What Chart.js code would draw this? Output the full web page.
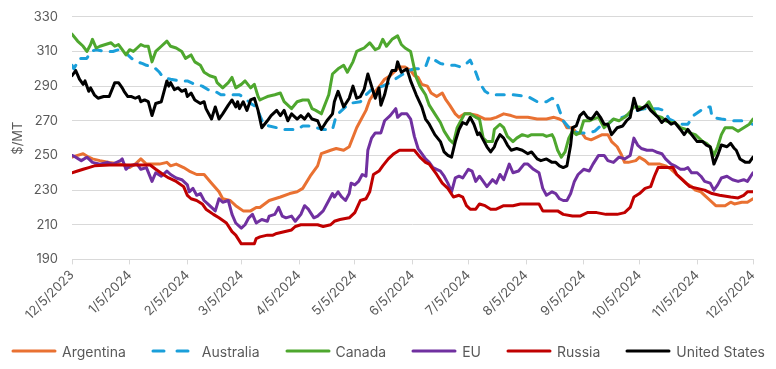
<!DOCTYPE html>
<html>
<head>
<meta charset="utf-8">
<script src="https://cdn.jsdelivr.net/npm/chart.js@4.4.1/dist/chart.umd.min.js"></script>
<style>
  html, body { margin: 0; padding: 0; background: #fff; }
  #wrap { position: relative; width: 776px; height: 369px; overflow: hidden; }
  /* canvas starts a few px above the page so the plot top lands where the original has it */
  #chart { position: absolute; left: 0; top: -5px; }
  #legend {
    position: absolute; left: 0; top: 341px; width: 776px; height: 20px;
    display: flex; justify-content: center; align-items: center; gap: 25px;
    font: 14px Inter, "Noto Sans", sans-serif; color: #595959;
  }
  .item { display: flex; align-items: center; white-space: nowrap; }
  .item svg { margin-right: 5px; }
</style>
</head>
<body>
<div id="wrap">
  <canvas id="chart" width="776" height="374"></canvas>
  <div id="legend"></div>
</div>
<script>
// x values are days counted from 12/5/2023
const tickDays = [0, 31, 62, 91, 122, 152, 183, 213, 244, 275, 305, 336, 366];
const tickLabels = ['12/5/2023', '1/5/2024', '2/5/2024', '3/5/2024', '4/5/2024', '5/5/2024',
  '6/5/2024', '7/5/2024', '8/5/2024', '9/5/2024', '10/5/2024', '11/5/2024', '12/5/2024'];

// [day, $/MT]
const argentina = [[0,249],[3,250],[6,251],[9,249],[11,248],[15,247],[20,246],[26,245],[30,244],[31,243],
  [34,245],[37,248],[40,245],[44,245],[47,245],[51,246],[53,244],[56,245],[60,243],[63,241],
  [67,239],[71,239],[75,234],[79,229],[81,225],[85,224],[88,221],[92,218],[96,218],[99,220],
  [101,220],[106,224],[112,226],[117,228],[121,229],[124,231],[128,238],[132,244],[134,251],[139,253],
  [142,254],[146,253],[149,255],[153,266],[155,270],[158,276],[160,282],[163,287],[166,291],[168,294],
  [171,296],[174,299],[176,301],[179,301],[182,299],[184,296],[186,295],[188,291],[191,290],[193,286],
  [196,284],[199,286],[201,282],[203,279],[206,274],[208,272],[211,274],[214,274],[218,273],[222,271],
  [225,271],[228,272],[232,274],[236,273],[239,272],[245,272],[250,271],[255,271],[259,272],[262,271],
  [264,270],[266,266],[269,266],[271,263],[274,263],[276,260],[279,259],[281,260],[285,262],[288,262],
  [290,258],[293,255],[295,251],[297,246],[299,246],[303,247],[305,249],[308,247],[310,245],[313,245],
  [316,245],[319,244],[322,242],[325,239],[327,237],[330,234],[333,232],[335,230],[338,229],[340,227],
  [343,224],[346,221],[349,221],[351,221],[354,223],[356,222],[360,223],[363,223],[366,225]];

const australia = [[0,302],[1,300],[4,306],[8,306],[10,310],[13,311],[18,310],[22,310],[25,311],[28,309],
  [30,308],[32,306],[35,304],[38,303],[40,302],[44,301],[47,298],[49,295],[53,294],[58,293],
  [62,293],[66,291],[70,290],[73,288],[77,287],[80,285],[85,285],[90,285],[93,283],[96,280],
  [99,278],[101,273],[103,268],[106,267],[110,266],[113,265],[121,265],[124,267],[128,267],[131,266],
  [135,265],[140,265],[142,273],[146,277],[149,280],[155,281],[158,285],[161,288],[164,289],[167,290],
  [171,292],[175,295],[178,297],[181,299],[184,300],[187,300],[190,301],[192,307],[195,305],[198,303],
  [203,302],[206,302],[209,301],[212,303],[214,305],[217,298],[219,292],[222,287],[225,285],[230,285],
  [237,285],[245,284],[250,281],[255,281],[258,283],[260,282],[262,276],[264,270],[268,265],[272,263],
  [278,263],[281,264],[284,267],[287,267],[291,271],[296,272],[300,274],[304,276],[308,277],[312,277],
  [315,277],[318,276],[321,271],[325,269],[328,268],[331,268],[334,273],[338,276],[341,278],[343,278],
  [344,272],[349,271],[355,270],[361,270],[366,268]];

const canada = [[0,320],[3,316],[6,313],[8,310],[10,314],[11,317],[13,312],[15,313],[18,314],[21,315],
  [23,313],[25,314],[27,311],[29,308],[31,311],[33,310],[35,312],[37,314],[39,313],[41,313],
  [43,304],[45,310],[48,313],[51,316],[53,313],[56,312],[59,310],[61,306],[64,308],[66,304],
  [69,302],[71,298],[74,296],[77,295],[78,292],[81,289],[84,292],[86,295],[88,289],[91,291],
  [93,293],[96,289],[98,291],[100,284],[101,282],[103,283],[105,284],[109,285],[112,286],[114,281],
  [118,277],[121,281],[124,282],[127,282],[129,277],[131,276],[134,274],[138,285],[140,297],[143,300],
  [146,302],[148,298],[151,304],[153,310],[155,311],[157,312],[160,315],[163,311],[165,312],[167,317],
  [169,313],[172,317],[175,319],[177,314],[179,312],[182,310],[184,300],[185,295],[187,290],[190,285],
  [192,279],[195,274],[198,269],[200,264],[203,259],[205,257],[207,266],[209,270],[211,274],[214,274],
  [217,272],[219,271],[221,260],[223,258],[226,258],[227,265],[230,268],[232,266],[234,261],[236,259],
  [237,258],[239,260],[242,262],[245,261],[247,262],[250,262],[253,262],[255,261],[258,262],[259,260],
  [261,253],[263,249],[265,252],[267,260],[269,264],[271,262],[273,263],[275,270],[278,270],[280,271],
  [283,272],[286,266],[288,268],[291,271],[294,270],[297,272],[299,274],[302,278],[305,278],[307,277],
  [310,281],[312,277],[314,273],[317,272],[319,270],[322,269],[324,269],[327,266],[330,265],[332,263],
  [335,262],[337,260],[339,258],[341,257],[343,255],[345,250],[347,255],[349,262],[351,266],[353,266],
  [355,266],[358,264],[361,266],[364,268],[366,271]];

const eu = [[0,250],[2,249],[5,247],[8,249],[11,246],[15,245],[19,246],[22,245],[26,247],[27,248],
  [29,242],[31,244],[35,245],[37,242],[40,243],[43,235],[45,240],[48,238],[51,241],[53,239],
  [56,237],[59,236],[62,233],[63,229],[65,231],[67,227],[69,228],[71,224],[74,221],[77,218],
  [79,225],[81,223],[84,224],[86,216],[88,211],[91,208],[93,210],[95,214],[97,216],[99,211],
  [102,213],[105,212],[106,215],[109,216],[111,220],[113,215],[115,214],[118,215],[120,212],[123,216],
  [125,221],[127,219],[130,214],[132,215],[135,218],[138,224],[140,228],[141,226],[143,229],[145,226],
  [147,224],[149,228],[150,234],[152,233],[154,235],[156,239],[158,238],[159,253],[161,260],[163,263],
  [166,263],[168,270],[171,273],[174,277],[175,272],[177,274],[180,274],[182,271],[184,261],[186,254],
  [188,251],[190,248],[192,246],[194,243],[198,241],[200,238],[202,234],[204,229],[206,237],[208,238],
  [210,237],[213,242],[215,241],[217,235],[219,238],[221,235],[223,232],[226,236],[228,234],[230,239],
  [232,236],[235,245],[237,240],[240,241],[243,245],[245,245],[248,242],[251,240],[253,231],[255,227],
  [258,229],[260,228],[262,225],[264,224],[266,224],[268,228],[270,235],[272,239],[275,242],[278,241],
  [280,245],[283,250],[286,250],[288,247],[291,246],[294,249],[297,248],[300,250],[302,260],[304,256],
  [306,254],[309,253],[312,253],[314,252],[317,251],[319,248],[322,245],[324,244],[327,242],[329,242],
  [331,243],[333,240],[336,240],[338,238],[340,235],[343,234],[345,230],[347,233],[349,237],[352,238],
  [355,236],[358,235],[361,236],[363,235],[366,240]];

const russia = [[0,240],[3,241],[6,242],[9,243],[12,244],[20,244.5],[30,244.5],[42,244.5],[45,242],[49,239],
  [52,237],[56,235],[60,232],[62,227],[64,225],[67,224],[70,222],[72,219],[76,216],[79,214],
  [83,211],[86,206],[88,204],[91,199],[95,199],[98,199],[99,202],[101,203],[105,204],[108,204],
  [110,205],[114,206],[118,207],[120,209],[123,210],[132,210],[135,209],[139,210],[141,212],[144,213],
  [149,214],[152,217],[155,224],[158,225],[160,229],[162,239],[165,241],[167,244],[170,248],[173,251],
  [176,253],[184,253],[187,249],[190,246],[192,245],[196,239],[199,234],[202,231],[205,226],[208,227],
  [210,226],[212,221],[214,219],[217,219],[219,222],[222,221],[225,219],[228,219],[232,221],[237,221],
  [241,222],[251,222],[253,218],[261,218],[264,216],[269,215],[273,215],[277,217],[282,217],[287,216],
  [293,216],[297,217],[300,220],[302,226],[305,228],[308,231],[311,232],[313,238],[315,243],[323,243],
  [325,239],[328,236],[330,234],[332,232],[336,231],[340,230],[344,228],[348,227],[354,226],[358,225.5],
  [361,227],[363,229],[366,229]];

const unitedStates = [[0,296],[2,299],[4,294],[6,291],[7,293],[9,287],[10,289],[12,285],[14,283],[17,284],
  [20,284],[23,292],[25,292],[27,289],[28,287],[30,284],[32,284],[34,283],[36,284],[37,281],
  [39,282],[41,281],[43,273],[45,280],[48,281],[51,293],[52,290],[53,292],[55,288],[57,289],
  [59,287],[61,288],[62,284],[64,286],[66,282],[69,280],[71,281],[72,277],[75,271],[77,278],
  [79,271],[81,274],[84,279],[86,282],[88,278],[89,281],[90,277],[92,281],[94,276],[96,282],
  [98,283],[100,276],[102,266],[105,270],[107,273],[110,276],[112,273],[114,276],[116,270],[118,274],
  [121,271],[123,273],[125,271],[127,274],[129,271],[132,270],[134,265],[137,270],[140,274],[141,281],
  [143,287],[146,278],[149,283],[151,290],[153,283],[155,284],[157,288],[159,297],[161,290],[163,283],
  [165,289],[166,279],[168,285],[170,294],[172,299],[174,299],[175,304],[177,298],[180,300],[182,293],
  [185,285],[188,278],[190,271],[192,268],[195,262],[198,258],[200,252],[202,250],[204,249],[206,258],
  [208,265],[210,269],[212,268],[214,272],[216,268],[218,262],[219,263],[221,259],[223,255],[225,252],
  [227,255],[228,258],[230,262],[232,260],[234,256],[236,253],[239,254],[242,253],[245,251],[247,252],
  [250,248],[252,247],[255,248],[258,246],[260,246],[262,244],[264,243],[266,244],[268,256],[269,266],
  [271,267],[273,273],[275,275],[277,272],[279,271],[280,272],[282,275],[284,272],[286,268],[288,268],
  [290,262],[293,266],[296,267],[298,270],[300,272],[302,283],[304,276],[306,277],[309,279],[311,276],
  [313,274],[315,272],[317,269],[319,271],[322,268],[324,269],[327,265],[329,262],[331,265],[333,262],
  [336,258],[339,258],[341,256],[343,255],[345,245],[347,250],[349,256],[352,255],[354,257],[356,254],
  [357,253],[359,248],[362,246],[364,246],[366,249]];

const seriesNames = ['Argentina', 'Australia', 'Canada', 'EU', 'Russia', 'United States'];
const seriesData = [argentina, australia, canada, eu, russia, unitedStates];
const seriesColors = ['#E97132', '#1A9FDA', '#4EA72E', '#7030A0', '#C00000', '#000000'];
const seriesDash = [[], [8, 9], [], [], [], []];

const gray = '#595959';
const font = 'Inter, "Noto Sans", sans-serif';

const datasets = seriesNames.map((name, i) => ({
    label: name,
    data: seriesData[i].map(p => ({ x: p[0], y: p[1] })),
    borderColor: seriesColors[i],
    backgroundColor: seriesColors[i],
    borderWidth: 3,
    borderDash: seriesDash[i],
    borderCapStyle: 'round',
    borderJoinStyle: 'round',
    pointRadius: 0,
    pointHoverRadius: 0,
    tension: 0,
    order: seriesNames.length - i   // later series drawn on top, like Excel
}));

new Chart(document.getElementById('chart'), {
    type: 'line',
    data: { datasets },
    options: {
        responsive: false,
        animation: false,
        events: [],
        layout: { padding: { top: 0, right: 23, bottom: 43, left: 0 } },
        plugins: {
            tooltip: { enabled: false },
            legend: { display: false }
        },
        scales: {
            x: {
                type: 'linear',
                min: 0,
                max: 366,
                afterBuildTicks: scale => {
                    scale.ticks = tickDays.map(v => ({ value: v }));
                },
                ticks: {
                    autoSkip: false,
                    minRotation: 45,
                    maxRotation: 45,
                    color: gray,
                    font: { family: font, size: 13 },
                    callback: v => tickLabels[tickDays.indexOf(v)]
                },
                grid: { drawOnChartArea: false, drawTicks: true, tickLength: 5, color: '#D9D9D9' },
                border: { display: true, color: '#D9D9D9' }
            },
            y: {
                min: 190,
                max: 330,
                afterFit: scale => { scale.width = 72; },
                ticks: {
                    stepSize: 20,
                    padding: 14,
                    color: gray,
                    font: { family: font, size: 13 }
                },
                title: {
                    display: true,
                    text: '$/MT',
                    color: gray,
                    font: { family: font, size: 13 },
                    padding: { top: 10, bottom: 0 }
                },
                grid: { color: '#D9D9D9', drawTicks: false },
                border: { display: false }
            }
        }
    }
});

// legend row under the chart, built from the same series lists
const legend = document.getElementById('legend');
seriesNames.forEach((name, i) => {
    const item = document.createElement('span');
    item.className = 'item';
    const dash = seriesDash[i].length ? ' stroke-dasharray="11 13"' : '';
    item.innerHTML = '<svg width="46" height="4"><line x1="2" y1="2" x2="44" y2="2" stroke="' +
        seriesColors[i] + '" stroke-width="3" stroke-linecap="round"' + dash + '/></svg>';
    item.appendChild(document.createTextNode(name));
    legend.appendChild(item);
});
</script>
</body>
</html>
